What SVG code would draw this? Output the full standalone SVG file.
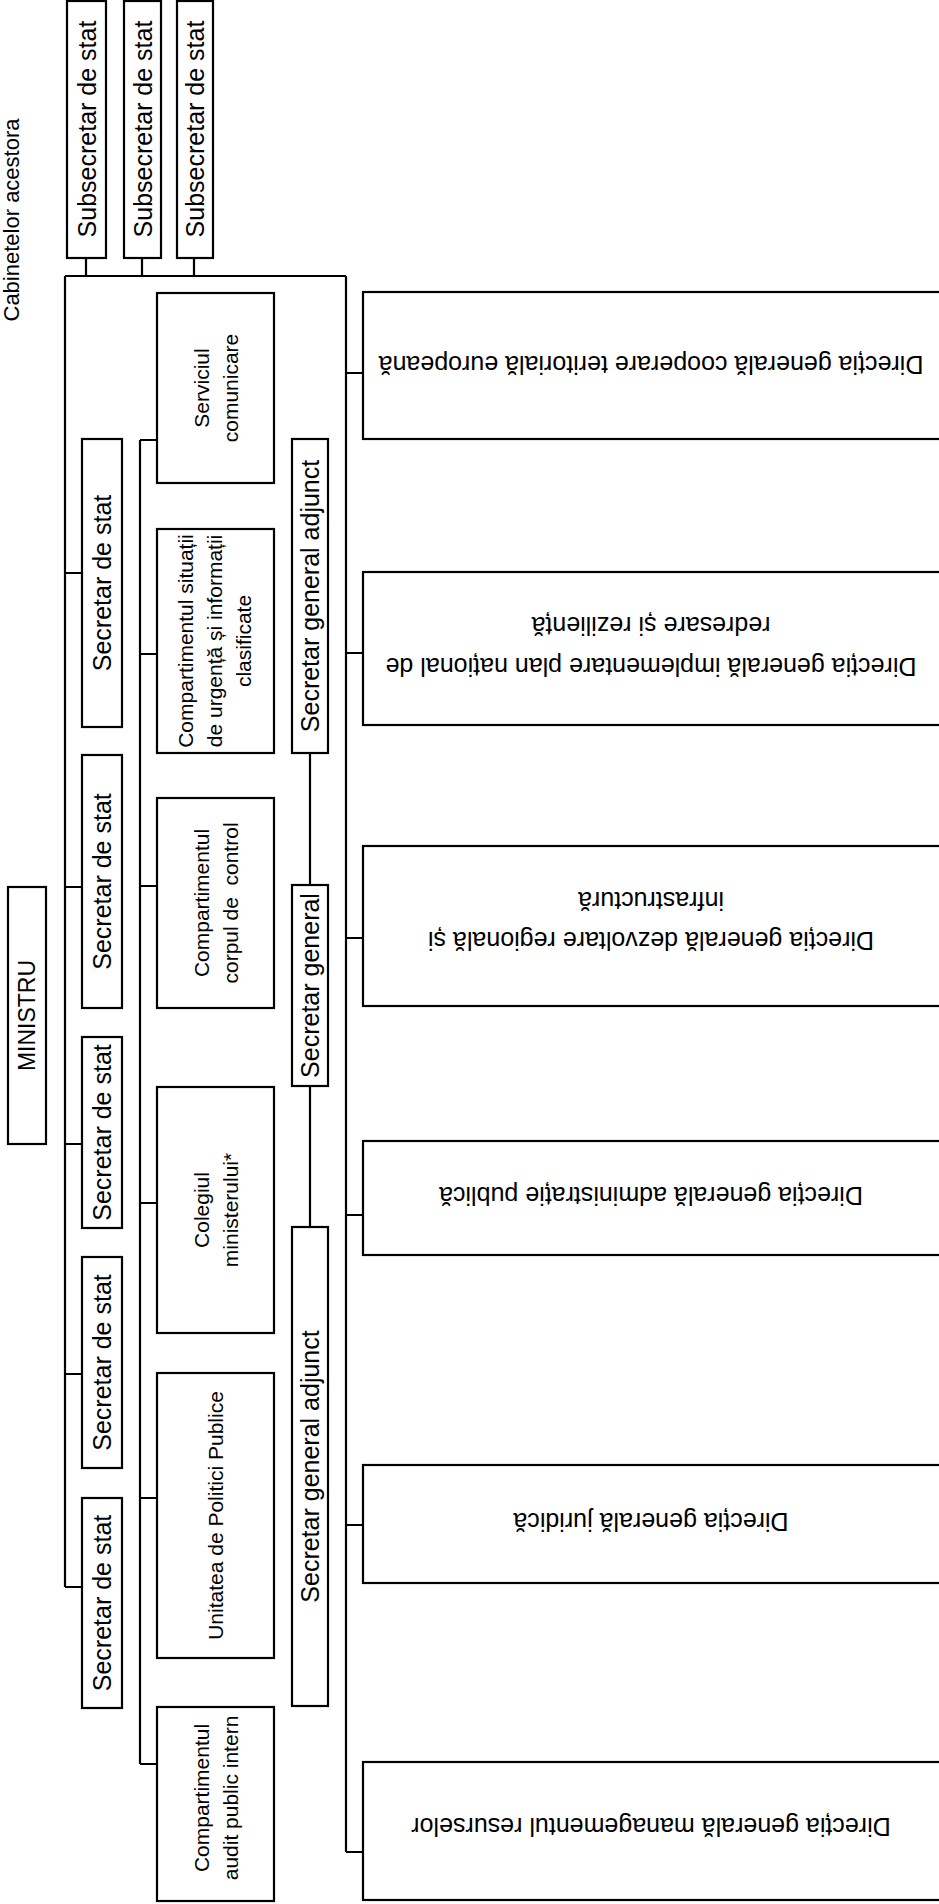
<svg xmlns="http://www.w3.org/2000/svg" width="939" height="1904" viewBox="0 0 939 1904">
<style>
.box{fill:#fff;stroke:#000;stroke-width:2.2}
.conn{fill:none;stroke:#000;stroke-width:2.2}
.t{font-family:"Liberation Sans",Arial,sans-serif;font-size:25px;fill:#000;text-anchor:middle}
.s{font-size:21px}
</style>
<rect width="939" height="1904" fill="#fff"/>
<g id="connectors">
<path class="conn" d="M86 258V276M142 258V276M194 258V276M65 276H346M65 276V1587M346 276V1852"/>
<path class="conn" d="M65 573H82M65 887H82M65 1144H82M65 1374H82M65 1587H82"/>
<path class="conn" d="M140 440V1764M140 440H157M140 654H157M140 886H157M140 1203H157M140 1498H157M140 1764H157"/>
<path class="conn" d="M310 753V885M310 1086V1227"/>
<path class="conn" d="M346 373H363M346 653H363M346 938H363M346 1215H363M346 1525H363M346 1852H363"/>
</g>
<g id="cabinete"><text class="t" style="font-size:22px" transform="translate(19,220) rotate(-90)">Cabinetelor acestora</text></g>
<g id="subsecretar1"><rect class="box" x="67" y="1" width="39" height="257"/><text class="t" transform="translate(95.5,129) rotate(-90)">Subsecretar de stat</text></g>
<g id="subsecretar2"><rect class="box" x="124" y="1" width="37" height="257"/><text class="t" transform="translate(151.5,129) rotate(-90)">Subsecretar de stat</text></g>
<g id="subsecretar3"><rect class="box" x="177" y="1" width="36" height="257"/><text class="t" transform="translate(204,129) rotate(-90)">Subsecretar de stat</text></g>
<g id="ministru"><rect class="box" x="8" y="887" width="38" height="257"/><text class="t" style="font-size:23px" transform="translate(35,1015.5) rotate(-90)">MINISTRU</text></g>
<g id="secretar1"><rect class="box" x="82" y="439" width="40" height="288"/><text class="t" transform="translate(111,583) rotate(-90)">Secretar de stat</text></g>
<g id="secretar2"><rect class="box" x="82" y="755" width="40" height="253"/><text class="t" transform="translate(111,881.5) rotate(-90)">Secretar de stat</text></g>
<g id="secretar3"><rect class="box" x="82" y="1037" width="40" height="191"/><text class="t" transform="translate(111,1132.5) rotate(-90)">Secretar de stat</text></g>
<g id="secretar4"><rect class="box" x="82" y="1257" width="40" height="211"/><text class="t" transform="translate(111,1362.5) rotate(-90)">Secretar de stat</text></g>
<g id="secretar5"><rect class="box" x="82" y="1498" width="40" height="210"/><text class="t" transform="translate(111,1603) rotate(-90)">Secretar de stat</text></g>
<g id="serviciul"><rect class="box" x="157" y="293" width="117" height="190"/><text class="t s" transform="translate(208.5,388) rotate(-90)"><tspan x="0" y="0">Serviciul</tspan><tspan x="0" y="29">comunicare</tspan></text></g>
<g id="situatii"><rect class="box" x="157" y="529" width="117" height="224"/><text class="t s" transform="translate(193,641) rotate(-90)"><tspan x="0" y="0">Compartimentul situații</tspan><tspan x="0" y="29">de urgență și informații</tspan><tspan x="0" y="58">clasificate</tspan></text></g>
<g id="control"><rect class="box" x="157" y="798" width="117" height="210"/><text class="t s" xml:space="preserve" transform="translate(208.5,903) rotate(-90)"><tspan x="0" y="0">Compartimentul</tspan><tspan x="0" y="29">corpul de  control</tspan></text></g>
<g id="colegiul"><rect class="box" x="157" y="1087" width="117" height="246"/><text class="t s" transform="translate(208.5,1210) rotate(-90)"><tspan x="0" y="0">Colegiul</tspan><tspan x="0" y="29">ministerului*</tspan></text></g>
<g id="upp"><rect class="box" x="157" y="1373" width="117" height="285"/><text class="t s" transform="translate(223,1515.5) rotate(-90)">Unitatea de Politici Publice</text></g>
<g id="audit"><rect class="box" x="157" y="1707" width="117" height="194"/><text class="t s" transform="translate(208.5,1798) rotate(-90)"><tspan x="0" y="0">Compartimentul</tspan><tspan x="0" y="29">audit public intern</tspan></text></g>
<g id="sga1"><rect class="box" x="292" y="439" width="36" height="314"/><text class="t" transform="translate(319,596) rotate(-90)">Secretar general adjunct</text></g>
<g id="sg"><rect class="box" x="292" y="885" width="36" height="201"/><text class="t" transform="translate(319,985.5) rotate(-90)">Secretar general</text></g>
<g id="sga2"><rect class="box" x="292" y="1227" width="36" height="479"/><text class="t" transform="translate(319,1466.5) rotate(-90)">Secretar general adjunct</text></g>
<g id="dg-cooperare"><rect class="box" x="363" y="292" width="580" height="147"/><text class="t" transform="translate(651,365) rotate(180)" y="8.75">Direcția generală cooperare teritorială europeană</text></g>
<g id="dg-pnrr"><rect class="box" x="363" y="572" width="580" height="153"/><text class="t" transform="translate(651,667) rotate(180)"><tspan x="0" y="8.75">Direcția generală implementare plan național de</tspan><tspan x="0" y="49.75">redresare și reziliență</tspan></text></g>
<g id="dg-dezvoltare"><rect class="box" x="363" y="846" width="580" height="160"/><text class="t" transform="translate(651,941) rotate(180)"><tspan x="0" y="8.75">Direcția generală dezvoltare regională și</tspan><tspan x="0" y="48.75">infrastructură</tspan></text></g>
<g id="dg-admin"><rect class="box" x="363" y="1141" width="580" height="114"/><text class="t" transform="translate(651,1196) rotate(180)" y="8.75">Direcția generală administrație publică</text></g>
<g id="dg-juridica"><rect class="box" x="363" y="1465" width="580" height="118"/><text class="t" transform="translate(651,1522) rotate(180)" y="8.75">Direcția generală juridică</text></g>
<g id="dg-resurse"><rect class="box" x="363" y="1762" width="580" height="138"/><text class="t" transform="translate(651,1827) rotate(180)" y="8.75">Direcția generală managementul resurselor</text></g>
</svg>
